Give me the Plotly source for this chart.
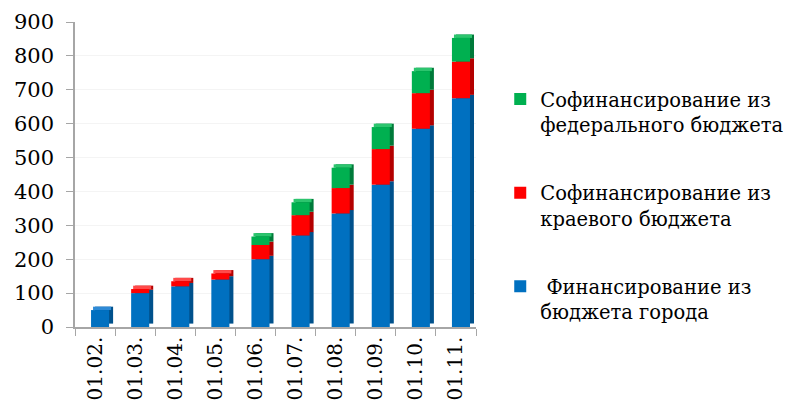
import plotly.graph_objects as go

categories = ["01.02.", "01.03.", "01.04.", "01.05.", "01.06.", "01.07.", "01.08.", "01.09.", "01.10.", "01.11."]
city = [50, 100, 120, 140, 200, 270, 335, 420, 585, 675]
regional = [0, 12, 15, 18, 42, 60, 75, 105, 105, 108]
federal = [0, 0, 0, 0, 25, 38, 60, 65, 65, 70]

names = [" Финансирование из<br>бюджета города",
         "Софинансирование из<br>краевого бюджета",
         "Софинансирование из<br>федерального бюджета"]
colors = ["#0070C0", "#FF0000", "#00B050"]
side_colors = ["#00518C", "#B30000", "#007A3A"]
top_colors = ["#2E8AD6", "#FF4A4A", "#2CC56E"]
series = [city, regional, federal]

FONT = "DejaVu Serif"
DEPTH_Y = 10       # visual depth of the pseudo-3D in value units
FRONT_OFF, FRONT_W = -0.1, 0.45
DEPTH_X = 0.1

n = len(categories)
bases = []
acc = [0] * n
for vals in series:
    bases.append(list(acc))
    acc = [a + v for a, v in zip(acc, vals)]
totals = acc
top_col = []
for j in range(n):
    k = max(i for i in range(len(series)) if series[i][j] > 0)
    top_col.append(top_colors[k])

fig = go.Figure()
# side faces (behind)
for i, vals in enumerate(series):
    fig.add_trace(go.Bar(
        x=categories, y=vals, base=[b + DEPTH_Y for b in bases[i]],
        offset=FRONT_OFF + DEPTH_X, width=FRONT_W,
        marker_color=side_colors[i], marker_line_width=0,
        showlegend=False, hoverinfo="skip",
    ))
# top caps
fig.add_trace(go.Bar(
    x=categories, y=[DEPTH_Y] * n, base=totals,
    offset=FRONT_OFF + DEPTH_X / 2, width=FRONT_W,
    marker_color=top_col, marker_line_width=0,
    showlegend=False, hoverinfo="skip",
))
# front faces
for i, (vals, name, col) in enumerate(zip(series, names, colors)):
    fig.add_trace(go.Bar(
        x=categories, y=vals, base=bases[i], name=name, marker_color=col,
        offset=FRONT_OFF, width=FRONT_W,
        marker_line_width=0, legendgroup=f"g{i}", legendrank=3 - i,
    ))

fig.update_layout(
    barmode="overlay",
    width=803, height=410,
    margin=dict(l=67, r=335, t=14, b=91),
    plot_bgcolor="white", paper_bgcolor="white",
    font=dict(family=FONT, size=18, color="black"),
    showlegend=True,
    legend=dict(
        traceorder="grouped", tracegroupgap=40, valign="top",
        xref="container", yref="container",
        x=0.613, y=0.825, xanchor="left", yanchor="top",
        font=dict(family=FONT, size=19.5, color="black"),
        itemwidth=30, bgcolor="rgba(0,0,0,0)",
        maxheight=1.0,
    ),
    xaxis=dict(
        tickangle=-90, showline=True, linecolor="#A6A6A6", linewidth=1.5,
        ticks="outside", ticklen=7, tickcolor="#A6A6A6", tickson="boundaries",
        tickfont=dict(family=FONT, size=20, color="black"),
        showgrid=False, automargin=False,
    ),
    yaxis=dict(
        range=[0, 900], dtick=100, showline=True, linecolor="#A6A6A6", linewidth=1.5,
        ticks="outside", ticklen=7, tickcolor="#A6A6A6", ticklabelstandoff=8,
        tickfont=dict(family=FONT, size=21, color="black"),
        showgrid=True, gridcolor="#F4F4F4", zeroline=False, automargin=False,
    ),
)

fig.write_html("out.html")
